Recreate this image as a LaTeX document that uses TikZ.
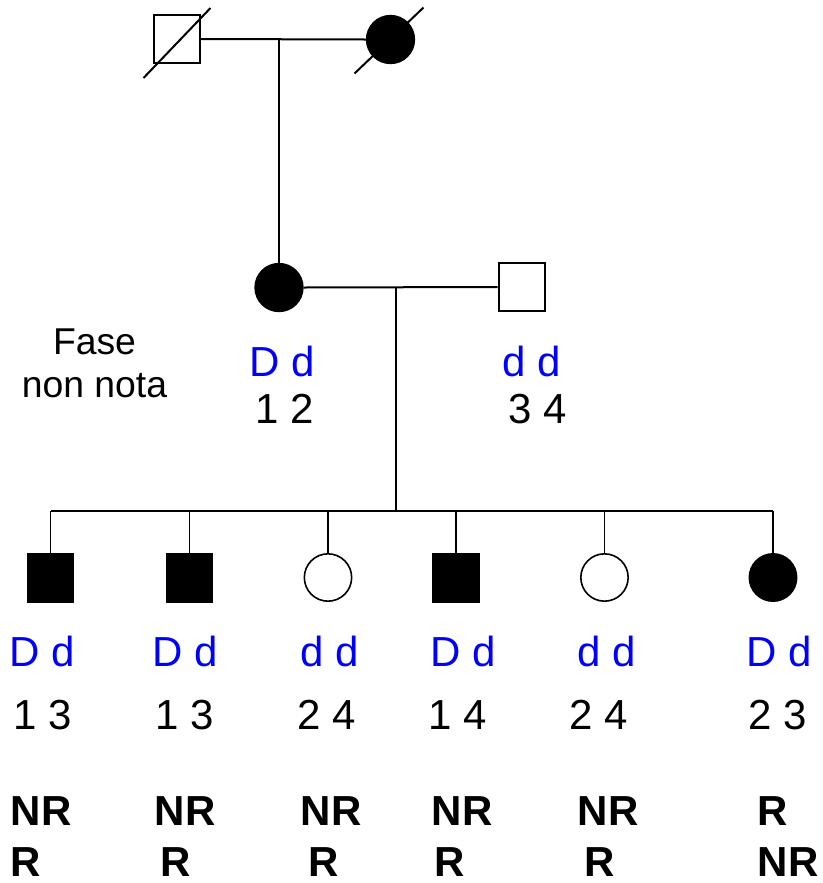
\documentclass[tikz,border=0pt]{standalone}
\usepackage{fontspec}
\setmainfont{Liberation Sans}
\usepackage{tikz}
\usetikzlibrary{positioning}
\definecolor{allele_blue}{RGB}{0,0,255}

\tikzset{
  male/.style={draw, rectangle, minimum width=34.5pt, minimum height=36.5pt, inner sep=0pt},
  female/.style={draw, circle, minimum size=35.5pt, inner sep=0pt},
  genotype/.style={anchor=base, text=allele_blue, font=\fontsize{31.5}{36}\selectfont},
  alleles/.style={anchor=base, font=\fontsize{31.5}{36}\selectfont},
  phase/.style={anchor=base west, font=\fontsize{31.5}{36}\selectfont\bfseries},
}

\begin{document}
\begin{tikzpicture}[x=0.75pt, y=-0.75pt, line width=1.5pt]
    \useasboundingbox (0,0) rectangle (823,883);

    % --- Begin Grandparents ---
    \node [male] (GrandFather) at (176.5,39) {};
    \node [female, fill=black] (GrandMother) at (390.5,39.5) {};
    \draw ([shift={(-33,39)}]GrandFather.center) -- ([shift={(34,-31)}]GrandFather.center);
    \draw ([shift={(-36,34)}]GrandMother.center) -- ([shift={(33,-32)}]GrandMother.center);
    \draw (GrandFather.east) -- (GrandMother.west);
    \coordinate (grand_mid) at (279,39.5);
    % --- End Grandparents ---

    % --- Begin Parents ---
    \node [female, fill=black] (Mother) at (279,287.5) {};
    \node [male] (Father) at (521.5,287) {};
    \draw (grand_mid) -- (Mother.north);
    \draw (Mother.east) -- (Father.west);
    \coordinate (parents_mid) at (396,287.5);
    \coordinate (sibship) at (396,511);
    \draw (parents_mid) -- (sibship);

    \node [genotype] (mother_genotype) at (282.5,376) {D d};
    \node [alleles] (mother_alleles) at (284.5,423) {1 2};
    \node [genotype] (father_genotype) at (532,376) {d d};
    \node [alleles] (father_alleles) at (537.5,423) {3 4};

    % Note on the phase (base is the last line).
    \node [anchor=base, align=center, font=\fontsize{28}{32}\selectfont] (phase_note) at (94.5,397) {Fase\\non nota};
    % --- End Parents ---

    % --- Begin Children ---
    \begin{scope}[line width=1.2pt]
    \node [male, fill=black] (Son1) at (50.5,578) {};
    \node [male, fill=black] (Son2) at (189.5,578) {};
    \node [female] (Daughter1) at (328,577.5) {};
    \node [male, fill=black] (Son3) at (456,578) {};
    \node [female] (Daughter2) at (604.5,577.5) {};
    \node [female, fill=black] (Daughter3) at (773,577.5) {};

    % Connect the children.
    \draw (Son1.north |- sibship) -- (Daughter3.north |- sibship);
    \draw (Son1.north) -- (Son1.north |- sibship);
    \draw (Son2.north) -- (Son2.north |- sibship);
    \draw (Daughter1.north) -- (Daughter1.north |- sibship);
    \draw (Son3.north) -- (Son3.north |- sibship);
    \draw (Daughter2.north) -- (Daughter2.north |- sibship);
    \draw (Daughter3.north) -- (Daughter3.north |- sibship);
    \end{scope}

    \node [genotype] (son1_genotype) at (42,666) {D d};
    \node [genotype] (son2_genotype) at (185,666) {D d};
    \node [genotype] (daughter1_genotype) at (330,666) {d d};
    \node [genotype] (son3_genotype) at (463,666) {D d};
    \node [genotype] (daughter2_genotype) at (606.5,666) {d d};
    \node [genotype] (daughter3_genotype) at (779,666) {D d};

    \node [alleles] (son1_alleles) at (43,729) {1 3};
    \node [alleles] (son2_alleles) at (185,729) {1 3};
    \node [alleles] (daughter1_alleles) at (326.5,729) {2 4};
    \node [alleles] (son3_alleles) at (458,729) {1 4};
    \node [alleles] (daughter2_alleles) at (599,729) {2 4};
    \node [alleles] (daughter3_alleles) at (778,729) {2 3};

    \node [phase] (son1_phase_a) at (5.5,825) {NR};
    \node [phase] (son2_phase_a) at (149.5,825) {NR};
    \node [phase] (daughter1_phase_a) at (295.5,825) {NR};
    \node [phase] (son3_phase_a) at (426.5,825) {NR};
    \node [phase] (daughter2_phase_a) at (572.5,825) {NR};
    \node [phase] (daughter3_phase_a) at (752.5,825) {R};

    \node [phase] (son1_phase_b) at (5.5,876) {R};
    \node [phase] (son2_phase_b) at (155.5,876) {R};
    \node [phase] (daughter1_phase_b) at (303.5,876) {R};
    \node [phase] (son3_phase_b) at (429.5,876) {R};
    \node [phase] (daughter2_phase_b) at (579.5,876) {R};
    \node [phase] (daughter3_phase_b) at (752.5,876) {NR};
    % --- End Children ---

\end{tikzpicture}
\end{document}
